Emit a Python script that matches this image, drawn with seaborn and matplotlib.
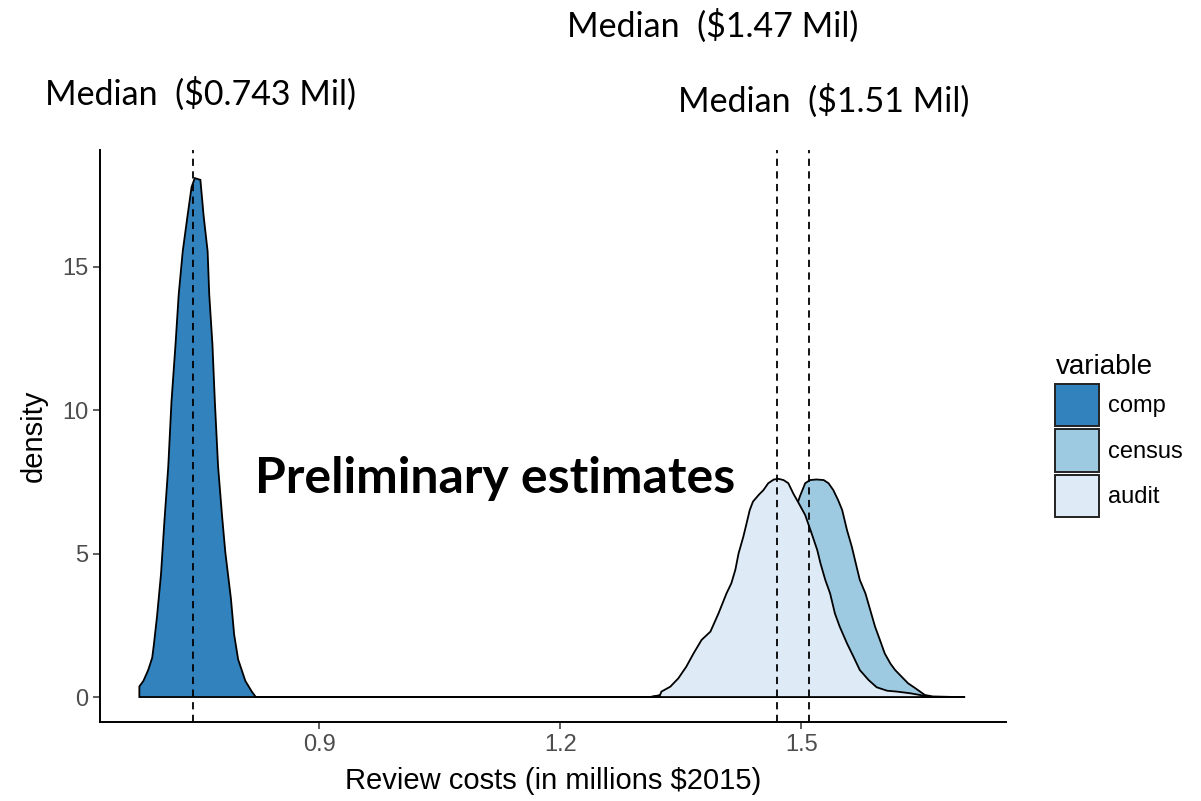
import numpy as np
import pandas as pd
import matplotlib.pyplot as plt
import matplotlib.patches as mpatches
import seaborn as sns

# density curves (x in millions $2015, y = density)
comp_x = [0.676, 0.676, 0.681, 0.687, 0.692, 0.694, 0.698, 0.703, 0.707, 0.712,
          0.716, 0.721, 0.725, 0.730, 0.736, 0.741, 0.745, 0.752, 0.756, 0.761,
          0.763, 0.767, 0.770, 0.774, 0.779, 0.783, 0.790, 0.794, 0.799, 0.808,
          0.816, 0.821, 1.704]
comp_y = [0.0, 0.37, 0.56, 0.94, 1.37, 1.81, 2.81, 4.30, 6.05, 8.04,
          10.29, 12.28, 14.03, 15.53, 16.77, 17.77, 18.08, 18.02, 16.77, 15.53,
          14.03, 12.28, 10.29, 8.04, 6.30, 5.05, 3.43, 2.18, 1.31, 0.56,
          0.19, 0.0, 0.0]

census_x = [1.312, 1.35, 1.38, 1.40, 1.42, 1.44, 1.46, 1.48, 1.49, 1.4985,
            1.505, 1.511, 1.519, 1.528, 1.534, 1.540, 1.546, 1.551, 1.557, 1.563,
            1.569, 1.573, 1.580, 1.586, 1.592, 1.598, 1.604, 1.611, 1.617, 1.625,
            1.633, 1.642, 1.648, 1.654, 1.664, 1.694, 1.704]
census_y = [0.0, 0.2, 0.6, 1.1, 1.9, 3.0, 4.2, 5.6, 6.3, 7.0,
            7.45, 7.56, 7.58, 7.56, 7.45, 7.21, 6.86, 6.52, 5.82, 5.24,
            4.54, 4.08, 3.61, 3.03, 2.45, 1.99, 1.52, 1.17, 0.94, 0.71,
            0.48, 0.31, 0.19, 0.07, 0.02, 0.0, 0.0]

audit_x = [1.312, 1.324, 1.326, 1.337, 1.347, 1.357, 1.366, 1.376, 1.387, 1.397,
           1.407, 1.413, 1.418, 1.422, 1.428, 1.432, 1.436, 1.440, 1.447, 1.453,
           1.459, 1.466, 1.472, 1.478, 1.484, 1.490, 1.497, 1.505, 1.513, 1.520,
           1.524, 1.530, 1.536, 1.542, 1.548, 1.557, 1.565, 1.573, 1.584, 1.594,
           1.607, 1.619, 1.636, 1.652, 1.660]
audit_y = [0.0, 0.05, 0.19, 0.36, 0.65, 1.06, 1.52, 1.99, 2.28, 2.91,
           3.61, 3.96, 4.43, 5.00, 5.59, 6.05, 6.52, 6.81, 7.04, 7.21,
           7.45, 7.58, 7.60, 7.56, 7.45, 7.10, 6.75, 6.34, 5.70, 5.12,
           4.66, 4.08, 3.61, 2.91, 2.45, 1.87, 1.41, 0.94, 0.59, 0.34,
           0.22, 0.19, 0.13, 0.05, 0.0]

variables = ["comp", "census", "audit"]
colors = ["#3182BD", "#9ECAE1", "#DEEBF7"]
medians = [0.743, 1.47, 1.51]
median_labels = ["Median  ($0.743 Mil)", "Median  ($1.47 Mil)", "Median  ($1.51 Mil)"]

df = pd.concat([
    pd.DataFrame({"x": comp_x, "density": comp_y, "variable": "comp"}),
    pd.DataFrame({"x": census_x, "density": census_y, "variable": "census"}),
    pd.DataFrame({"x": audit_x, "density": audit_y, "variable": "audit"}),
])

sns.set_theme(style="ticks")
plt.rcParams["font.family"] = ["Liberation Sans", "DejaVu Sans"]
plt.rcParams["text.color"] = "black"

fig = plt.figure(figsize=(12.01, 8.01), dpi=100)
ax = fig.add_axes([100 / 1201, 1 - 722 / 801, 906 / 1201, 572 / 801])

# ggplot-style densities: each group filled with a black outline, audit on top
for var, col in zip(variables, colors):
    d = df[df["variable"] == var]
    ax.fill(d["x"], d["density"], facecolor=col, edgecolor="black", lw=1.3)

for m in medians:
    ax.axvline(m, color="black", ls=(0, (4, 3)), lw=1.3)

ax.set_xlim(0.627, 1.755)
ax.set_ylim(-0.87, 19.06)
ax.set_xticks([0.9, 1.2, 1.5])
ax.set_xticklabels(["0.9", "1.2", "1.5"])
ax.set_yticks([0, 5, 10, 15])
ax.tick_params(axis="both", labelsize=17, labelcolor="#4D4D4D", color="#333333",
               length=5, width=1.1)
for s in ["left", "bottom"]:
    ax.spines[s].set_linewidth(1.4)
    ax.spines[s].set_color("black")
sns.despine(ax=ax)
ax.set_xlabel("Review costs (in millions $2015)", fontsize=21, color="black", labelpad=8)
ax.set_ylabel("density", fontsize=21, color="black", labelpad=10)

handles = [mpatches.Patch(facecolor=c, edgecolor="#222222", lw=1.4, label=v)
           for v, c in zip(variables, colors)]
leg = fig.legend(handles=handles, title="variable", loc="upper left",
                 bbox_to_anchor=(1046 / 1201, 1 - 345 / 801), frameon=False,
                 fontsize=17, title_fontsize=20, handlelength=1.84, handleheight=2.38,
                 handletextpad=0.4, labelspacing=0.14, borderaxespad=0)
leg._legend_box.align = "left"

ann_font = ["Lato", "DejaVu Sans"]
fig.text(45 / 1201, 1 - 105 / 801, median_labels[0], fontsize=24.5, family=ann_font,
         ha="left", va="baseline")
fig.text(567 / 1201, 1 - 37 / 801, median_labels[1], fontsize=24.5, family=ann_font,
         ha="left", va="baseline")
fig.text(678 / 1201, 1 - 112 / 801, median_labels[2], fontsize=24.5, family=ann_font,
         ha="left", va="baseline")
fig.text(255 / 1201, 1 - 493 / 801, "Preliminary estimates", fontsize=36,
         fontweight="bold", family=ann_font, ha="left", va="baseline")

fig.savefig("out.png", dpi=100)
